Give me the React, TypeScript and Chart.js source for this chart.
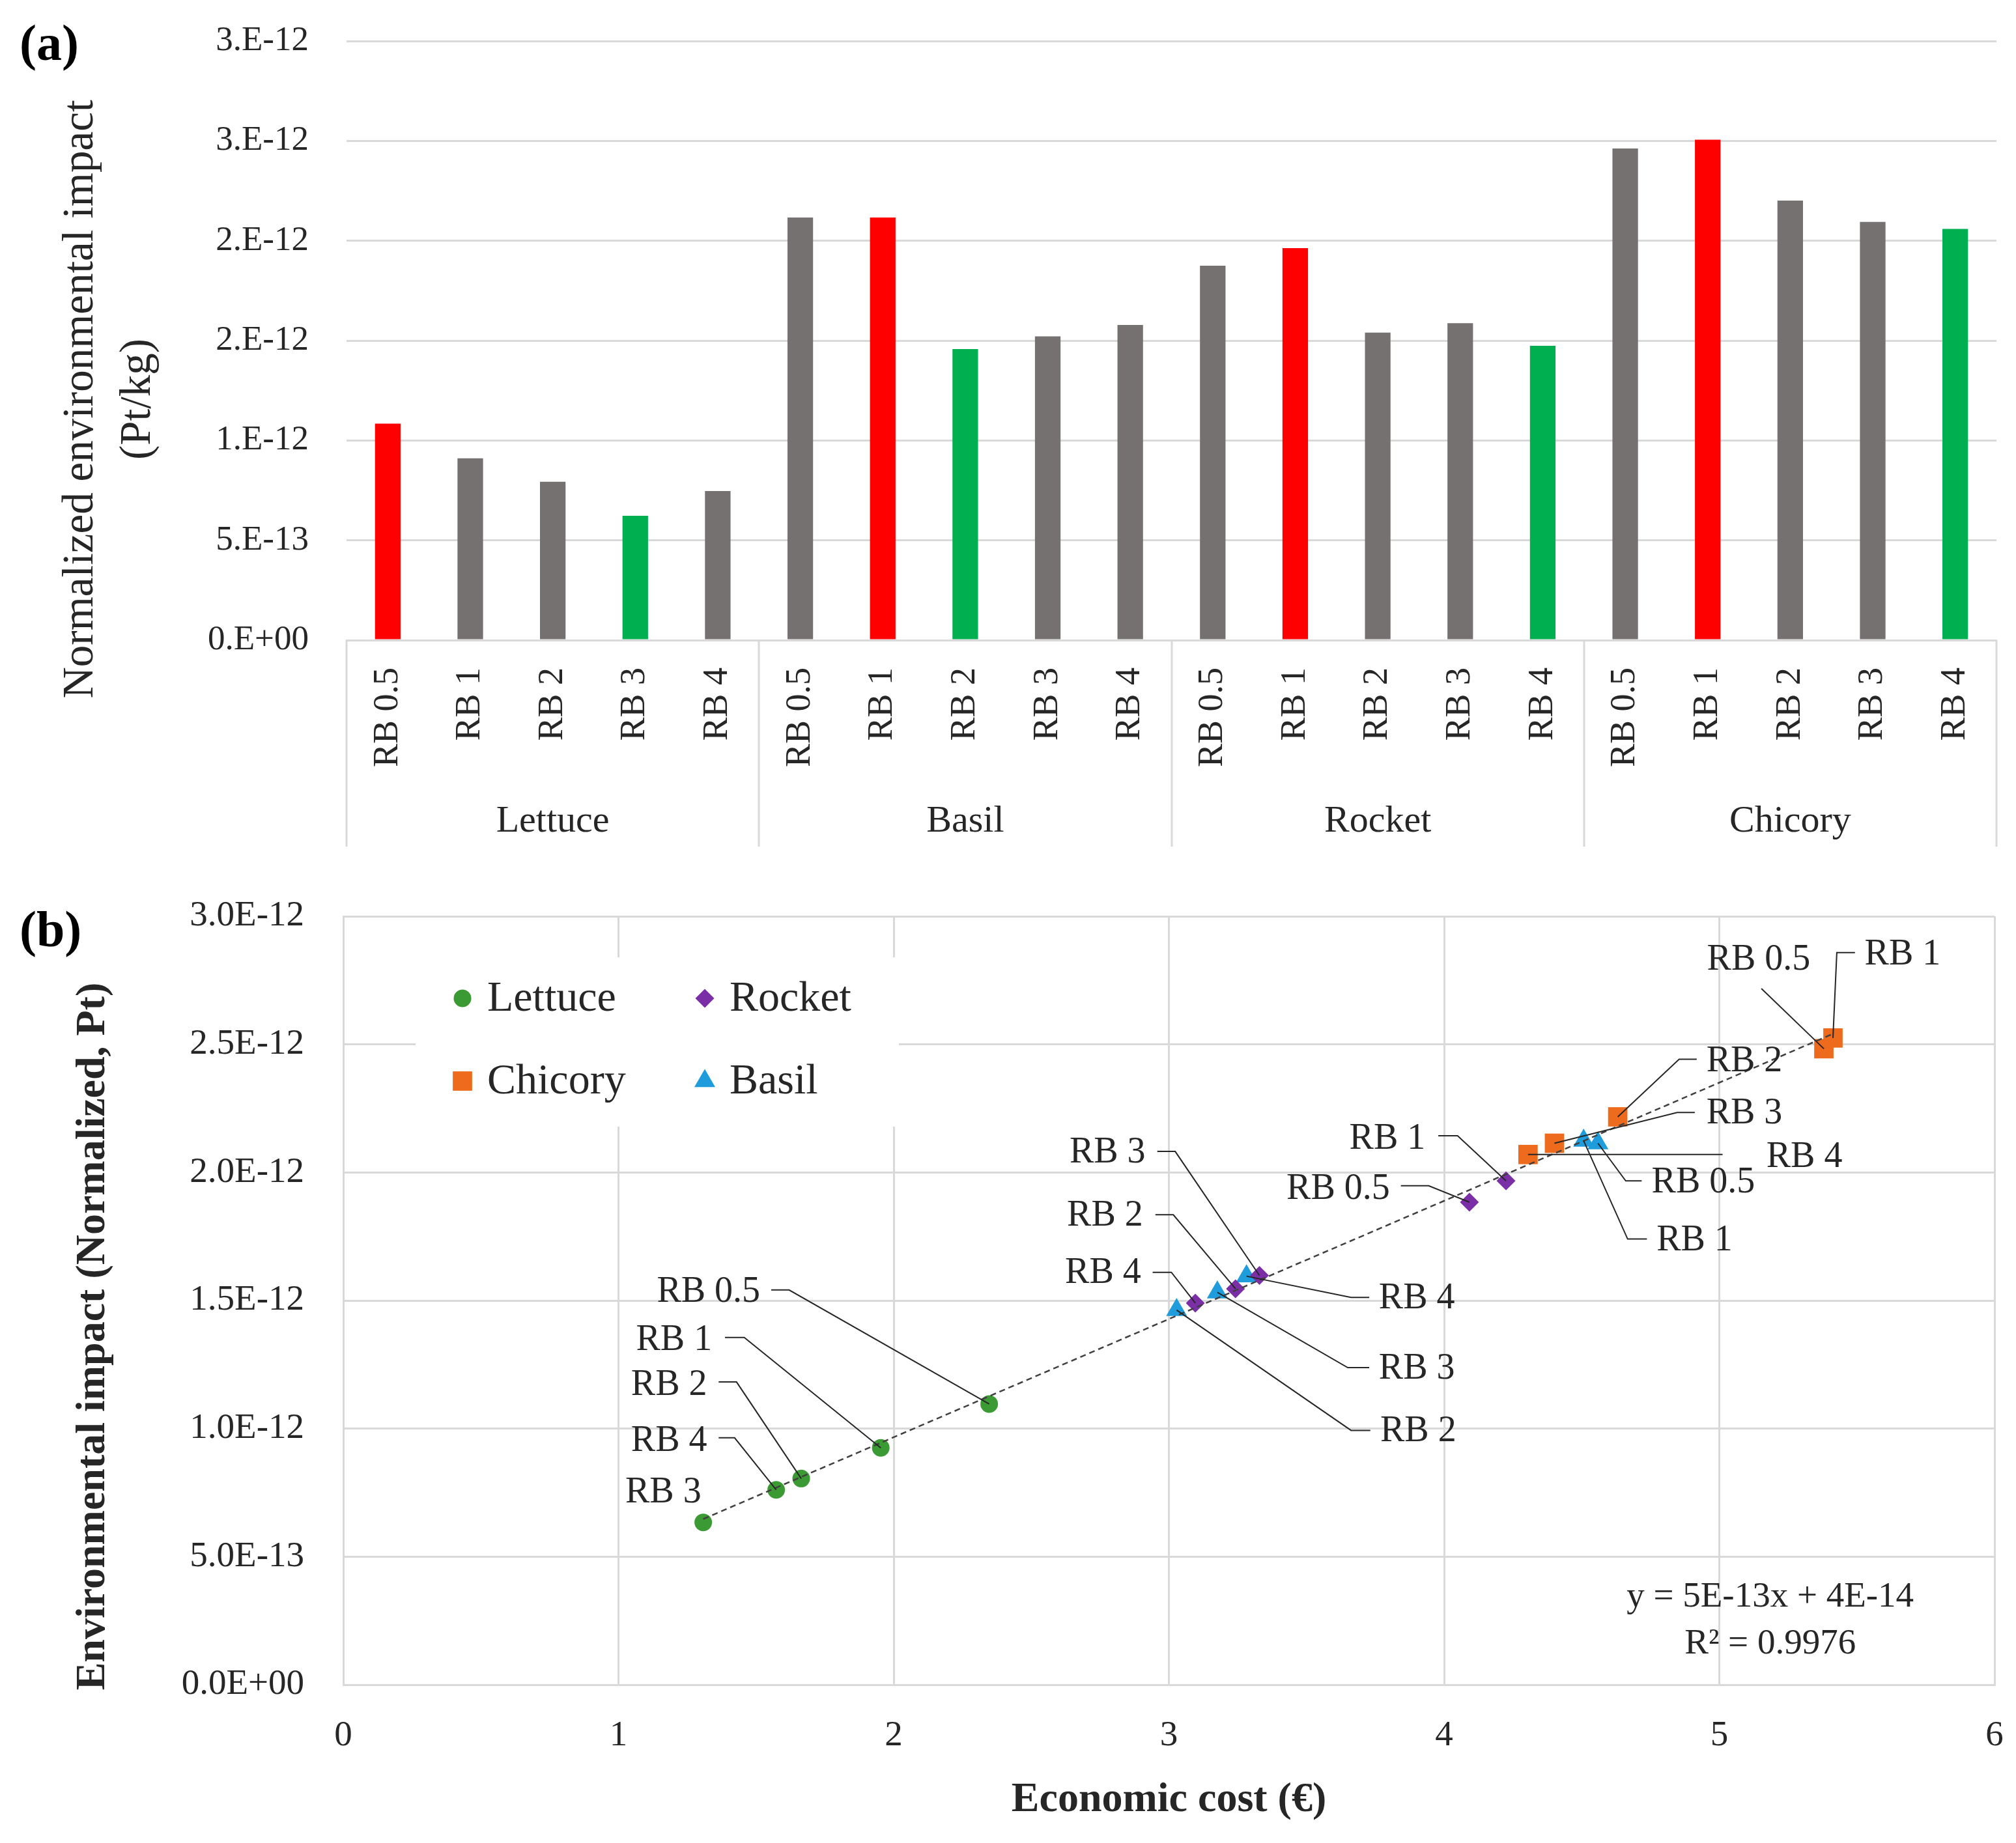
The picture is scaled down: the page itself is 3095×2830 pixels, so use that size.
import React, { useEffect, useRef } from 'react';
import { Chart, registerables } from 'chart.js';

Chart.register(...registerables);

const FONT = '"Liberation Serif", "Times New Roman", serif';
const TEXT = '#262626';
const GRID = '#D9D9D9';
const CLEAR = 'rgba(0,0,0,0)';

// ---------------- Panel (a) data ----------------
const rbLevels = ['RB 0.5', 'RB 1', 'RB 2', 'RB 3', 'RB 4'];
const crops = ['Lettuce', 'Basil', 'Rocket', 'Chicory'];
const lettuceImpact = [1.084e-12, 0.911e-12, 0.793e-12, 0.623e-12, 0.747e-12];
const basilImpact = [2.116e-12, 2.116e-12, 1.458e-12, 1.521e-12, 1.578e-12];
const rocketImpact = [1.875e-12, 1.963e-12, 1.54e-12, 1.587e-12, 1.474e-12];
const chicoryImpact = [2.462e-12, 2.506e-12, 2.201e-12, 2.094e-12, 2.059e-12];
const lettuceRole = ['high', 'mid', 'mid', 'low', 'mid'];
const basilRole = ['mid', 'high', 'low', 'mid', 'mid'];
const rocketRole = ['mid', 'high', 'mid', 'mid', 'low'];
const chicoryRole = ['mid', 'high', 'mid', 'mid', 'low'];
const impactTicks = [0, 5e-13, 1e-12, 1.5e-12, 2e-12, 2.5e-12, 3e-12];

// ---------------- Panel (b) data ----------------
const seriesNames = ['Lettuce', 'Rocket', 'Chicory', 'Basil'];
const lettuceCost = [2.347, 1.953, 1.664, 1.308, 1.573];
const lettuceNorm = [1.096e-12, 0.925e-12, 0.805e-12, 0.634e-12, 0.761e-12];
const rocketCost = [4.092, 4.225, 3.242, 3.329, 3.096];
const rocketNorm = [1.884e-12, 1.967e-12, 1.546e-12, 1.598e-12, 1.49e-12];
const chicoryCost = [5.38, 5.413, 4.631, 4.401, 4.305];
const chicoryNorm = [2.483e-12, 2.525e-12, 2.217e-12, 2.114e-12, 2.07e-12];
const basilCost = [4.559, 4.507, 3.028, 3.176, 3.282];
const basilNorm = [2.114e-12, 2.124e-12, 1.463e-12, 1.532e-12, 1.595e-12];
const costTicks = [0, 1, 2, 3, 4, 5, 6];
const normTicks = [0, 5e-13, 1e-12, 1.5e-12, 2e-12, 2.5e-12, 3e-12];
const trendEquation = 'y = 5E-13x + 4E-14';
const trendR2 = 'R² = 0.9976';

// label placements (data units, y in 1e-12)
const UNIT = 1e-12;
type Lab = { s: number; i: number; t: string; x: number; y: number; a: CanvasTextAlign; path: number[][] | null };
const pointLabels: Lab[] = [
  { s: 0, i: 0, t: 'RB 0.5', x: 1.515, y: 1.532, a: 'right', path: [[1.555, 1.541], [1.62, 1.541]] },
  { s: 0, i: 1, t: 'RB 1', x: 1.34, y: 1.343, a: 'right', path: [[1.387, 1.356], [1.457, 1.356]] },
  { s: 0, i: 2, t: 'RB 2', x: 1.322, y: 1.17, a: 'right', path: [[1.364, 1.182], [1.429, 1.182]] },
  { s: 0, i: 4, t: 'RB 4', x: 1.322, y: 0.949, a: 'right', path: [[1.364, 0.964], [1.422, 0.964]] },
  { s: 0, i: 3, t: 'RB 3', x: 1.301, y: 0.749, a: 'right', path: null },
  { s: 1, i: 3, t: 'RB 3', x: 2.915, y: 2.077, a: 'right', path: [[2.958, 2.082], [3.023, 2.082]] },
  { s: 1, i: 2, t: 'RB 2', x: 2.906, y: 1.83, a: 'right', path: [[2.951, 1.835], [3.016, 1.835]] },
  { s: 1, i: 4, t: 'RB 4', x: 2.899, y: 1.605, a: 'right', path: [[2.941, 1.61], [3.009, 1.61]] },
  { s: 1, i: 0, t: 'RB 0.5', x: 3.803, y: 1.935, a: 'right', path: [[3.843, 1.948], [3.944, 1.948]] },
  { s: 1, i: 1, t: 'RB 1', x: 3.932, y: 2.131, a: 'right', path: [[3.979, 2.143], [4.049, 2.143]] },
  { s: 2, i: 0, t: 'RB 0.5', x: 5.143, y: 2.829, a: 'center', path: [[5.153, 2.718]] },
  { s: 2, i: 1, t: 'RB 1', x: 5.528, y: 2.848, a: 'left', path: [[5.493, 2.858], [5.427, 2.858]] },
  { s: 2, i: 2, t: 'RB 2', x: 4.953, y: 2.432, a: 'left', path: [[4.918, 2.442], [4.854, 2.442]] },
  { s: 2, i: 3, t: 'RB 3', x: 4.953, y: 2.229, a: 'left', path: [[4.911, 2.234], [4.847, 2.234]] },
  { s: 2, i: 4, t: 'RB 4', x: 5.171, y: 2.058, a: 'left', path: [[5.012, 2.07]] },
  { s: 3, i: 0, t: 'RB 0.5', x: 4.754, y: 1.96, a: 'left', path: [[4.718, 1.967], [4.66, 1.967]] },
  { s: 3, i: 1, t: 'RB 1', x: 4.772, y: 1.732, a: 'left', path: [[4.737, 1.74], [4.667, 1.74]] },
  { s: 3, i: 4, t: 'RB 4', x: 3.763, y: 1.507, a: 'left', path: [[3.728, 1.512], [3.662, 1.512]] },
  { s: 3, i: 3, t: 'RB 3', x: 3.763, y: 1.233, a: 'left', path: [[3.728, 1.238], [3.65, 1.238]] },
  { s: 3, i: 2, t: 'RB 2', x: 3.768, y: 0.988, a: 'left', path: [[3.732, 0.993], [3.662, 0.993]] },
];

const roleColor: Record<string, string> = { high: '#FF0000', low: '#00B050', mid: '#767171' };
const seriesColor = ['#3C9A34', '#7A2FA6', '#EE6A1C', '#1F9CDB'];
const seriesStyle = ['circle', 'rectRot', 'rect', 'triangle'];
const seriesRadius = [13.5, 14.5, 21, 18.5];

function excelExp(v: number, d: number): string {
  let e = v === 0 ? 0 : Math.floor(Math.log10(Math.abs(v)) + 1e-9);
  let m = v === 0 ? 0 : v / Math.pow(10, e);
  const f = Math.pow(10, d);
  m = Math.round(m * f + 1e-6) / f;
  if (m >= 10) { m /= 10; e += 1; }
  const ms = d === 0 ? m.toFixed(0) + '.' : m.toFixed(d);
  return ms + 'E' + (e < 0 ? '-' : '+') + String(Math.abs(e)).padStart(2, '0');
}

function drawMarker(ctx: CanvasRenderingContext2D, style: string, x: number, y: number, r: number, color: string) {
  ctx.save();
  ctx.fillStyle = color;
  ctx.beginPath();
  if (style === 'circle') {
    ctx.arc(x, y, r, 0, Math.PI * 2);
  } else if (style === 'rectRot') {
    ctx.moveTo(x, y - r); ctx.lineTo(x + r, y); ctx.lineTo(x, y + r); ctx.lineTo(x - r, y); ctx.closePath();
  } else if (style === 'rect') {
    const h = r * Math.SQRT1_2;
    ctx.rect(x - h, y - h, 2 * h, 2 * h);
  } else {
    const w = r * Math.sqrt(3) / 2;
    ctx.moveTo(x, y - r); ctx.lineTo(x + w, y + r / 2); ctx.lineTo(x - w, y + r / 2); ctx.closePath();
  }
  ctx.fill();
  ctx.restore();
}

export default function App() {
  const topRef = useRef<HTMLCanvasElement>(null);
  const botRef = useRef<HTMLCanvasElement>(null);

  useEffect(() => {
    document.body.style.margin = '0';

    const barValues = [...lettuceImpact, ...basilImpact, ...rocketImpact, ...chicoryImpact];
    const barLabels = crops.flatMap(() => rbLevels);
    const barColors = [...lettuceRole, ...basilRole, ...rocketRole, ...chicoryRole].map((r) => roleColor[r]);

    const topDecor = {
      id: 'topDecor',
      afterDraw(chart: any) {
        const ctx: CanvasRenderingContext2D = chart.ctx;
        const xs = chart.scales.x;
        const x2 = chart.scales.x2;
        const area = chart.chartArea;
        ctx.save();
        ctx.strokeStyle = GRID;
        ctx.lineWidth = 3;
        for (let g = 0; g <= crops.length; g++) {
          const px = Math.round(xs.getPixelForValue(g * rbLevels.length - 0.5));
          ctx.beginPath();
          ctx.moveTo(px, area.bottom);
          ctx.lineTo(px, x2.bottom - 20);
          ctx.stroke();
        }
        ctx.restore();

        ctx.save();
        ctx.fillStyle = TEXT;
        ctx.font = `67px ${FONT}`;
        ctx.textAlign = 'center';
        ctx.textBaseline = 'middle';
        ctx.translate(124, 613);
        ctx.rotate(-Math.PI / 2);
        ctx.fillText('Normalized environmental impact', 0, 0);
        ctx.fillText('(Pt/kg)', 0, 88);
        ctx.restore();

        ctx.save();
        ctx.fillStyle = '#000';
        ctx.font = `bold 78px ${FONT}`;
        ctx.textAlign = 'left';
        ctx.textBaseline = 'middle';
        ctx.fillText('(a)', 30, 72);
        ctx.restore();
      },
    };

    const top = new Chart(topRef.current as HTMLCanvasElement, {
      type: 'bar',
      data: {
        labels: barLabels,
        datasets: [
          {
            data: barValues,
            backgroundColor: barColors,
            borderWidth: 0,
            barPercentage: 0.31,
            categoryPercentage: 1,
            xAxisID: 'x',
            yAxisID: 'y',
          },
        ],
      },
      options: {
        responsive: false,
        animation: false,
        devicePixelRatio: 1,
        events: [],
        layout: { padding: { top: 63, right: 30, left: 0, bottom: 0 } },
        plugins: { legend: { display: false }, tooltip: { enabled: false } },
        scales: {
          x: {
            type: 'category',
            position: 'bottom',
            weight: 0,
            grid: { display: false, drawTicks: true, tickLength: 42, tickColor: CLEAR },
            border: { display: true, color: GRID, width: 3 },
            ticks: {
              autoSkip: false,
              minRotation: 90,
              maxRotation: 90,
              padding: 0,
              color: TEXT,
              font: { family: FONT, size: 54 },
            },
            afterFit: (s: any) => { s.height = 207; },
          },
          x2: {
            type: 'category',
            labels: crops,
            position: 'bottom',
            weight: 1,
            offset: true,
            grid: { display: false, drawTicks: true, tickLength: 37, tickColor: CLEAR },
            border: { display: false },
            ticks: { padding: 0, color: TEXT, font: { family: FONT, size: 58 } },
            afterFit: (s: any) => { s.height = 130; },
          },
          y: {
            min: 0,
            max: 3e-12,
            afterBuildTicks: (s: any) => { s.ticks = impactTicks.map((v) => ({ value: v })); },
            grid: { color: GRID, lineWidth: 3, drawTicks: true, tickLength: 58, tickColor: CLEAR },
            border: { display: false },
            ticks: {
              padding: 0,
              color: TEXT,
              font: { family: FONT, size: 53 },
              callback: (v: any) => excelExp(Number(v), 0),
            },
            afterFit: (s: any) => { s.width = 532; },
          },
        },
      } as any,
      plugins: [topDecor],
    });

    // ---------- Panel (b) ----------
    const costs = [lettuceCost, rocketCost, chicoryCost, basilCost];
    const norms = [lettuceNorm, rocketNorm, chicoryNorm, basilNorm];
    const allX = costs.flat();
    const allY = norms.flat();
    const n = allX.length;
    const mx = allX.reduce((a, b) => a + b, 0) / n;
    const my = allY.reduce((a, b) => a + b, 0) / n;
    let sxy = 0;
    let sxx = 0;
    for (let k = 0; k < n; k++) {
      sxy += (allX[k] - mx) * (allY[k] - my);
      sxx += (allX[k] - mx) * (allX[k] - mx);
    }
    const slope = sxy / sxx;
    const intercept = my - slope * mx;
    const xMin = Math.min(...allX);
    const xMax = Math.max(...allX);
    const trendData = [
      { x: xMin, y: intercept + slope * xMin },
      { x: xMax, y: intercept + slope * xMax },
    ];

    const scatterSets: any[] = seriesNames.map((name, s) => ({
      type: 'scatter',
      label: name,
      data: costs[s].map((c, i) => ({ x: c, y: norms[s][i] })),
      pointStyle: seriesStyle[s],
      pointRadius: seriesRadius[s],
      pointBackgroundColor: seriesColor[s],
      pointBorderColor: seriesColor[s],
      pointBorderWidth: 0,
      order: 0,
    }));

    const botDecor = {
      id: 'botDecor',
      beforeDatasetsDraw(chart: any) {
        const ctx: CanvasRenderingContext2D = chart.ctx;
        const area = chart.chartArea;
        const bx = area.left + 111;
        const by = area.top + 63;
        ctx.save();
        ctx.fillStyle = '#FFFFFF';
        ctx.fillRect(bx, by, 742, 260);
        const colX = [area.left + 183, area.left + 555];
        const rowY = [area.top + 126, area.top + 253];
        ctx.font = `66px ${FONT}`;
        ctx.textAlign = 'left';
        ctx.textBaseline = 'middle';
        seriesNames.forEach((name, s) => {
          const cx = colX[s % 2];
          const cy = rowY[Math.floor(s / 2)];
          drawMarker(ctx, seriesStyle[s], cx, cy, seriesRadius[s], seriesColor[s]);
          ctx.fillStyle = TEXT;
          ctx.fillText(name, cx + 38, cy + 2);
        });
        ctx.restore();
      },
      afterDatasetsDraw(chart: any) {
        const ctx: CanvasRenderingContext2D = chart.ctx;
        const xs = chart.scales.x;
        const ys = chart.scales.y;
        ctx.save();
        ctx.strokeStyle = '#262626';
        ctx.lineWidth = 2;
        ctx.fillStyle = TEXT;
        ctx.font = `56px ${FONT}`;
        ctx.textBaseline = 'middle';
        pointLabels.forEach((lab) => {
          const el = chart.getDatasetMeta(lab.s).data[lab.i];
          if (lab.path) {
            ctx.beginPath();
            lab.path.forEach((p, k) => {
              const px = xs.getPixelForValue(p[0]);
              const py = ys.getPixelForValue(p[1] * UNIT);
              if (k === 0) ctx.moveTo(px, py);
              else ctx.lineTo(px, py);
            });
            ctx.lineTo(el.x, el.y);
            ctx.stroke();
          }
          ctx.textAlign = lab.a;
          ctx.fillText(lab.t, xs.getPixelForValue(lab.x), ys.getPixelForValue(lab.y * UNIT));
        });
        ctx.font = `55px ${FONT}`;
        ctx.textAlign = 'center';
        ctx.fillText(trendEquation, xs.getPixelForValue(5.185), ys.getPixelForValue(0.343 * UNIT));
        ctx.fillText(trendR2, xs.getPixelForValue(5.185), ys.getPixelForValue(0.16 * UNIT));
        ctx.restore();
      },
      afterDraw(chart: any) {
        const ctx: CanvasRenderingContext2D = chart.ctx;
        ctx.save();
        ctx.fillStyle = TEXT;
        ctx.font = `bold 64px ${FONT}`;
        ctx.textAlign = 'center';
        ctx.textBaseline = 'middle';
        ctx.translate(143, 732);
        ctx.rotate(-Math.PI / 2);
        ctx.fillText('Environmental impact (Normalized, Pt)', 0, 0);
        ctx.restore();

        ctx.save();
        ctx.fillStyle = '#000';
        ctx.font = `bold 78px ${FONT}`;
        ctx.textAlign = 'left';
        ctx.textBaseline = 'middle';
        ctx.fillText('(b)', 30, 113);
        ctx.restore();
      },
    };

    const bottom = new Chart(botRef.current as HTMLCanvasElement, {
      type: 'scatter',
      data: {
        datasets: [
          ...scatterSets,
          {
            type: 'line',
            label: 'Trend',
            data: trendData,
            borderColor: '#404040',
            borderWidth: 2.5,
            borderDash: [9, 6],
            pointRadius: 0,
            fill: false,
            showLine: true,
            order: -1,
          },
        ],
      },
      options: {
        responsive: false,
        animation: false,
        devicePixelRatio: 1,
        events: [],
        layout: { padding: { top: 87, right: 33, left: 0, bottom: 0 } },
        plugins: { legend: { display: false }, tooltip: { enabled: false } },
        scales: {
          x: {
            type: 'linear',
            min: 0,
            max: 6,
            afterBuildTicks: (s: any) => { s.ticks = costTicks.map((v) => ({ value: v })); },
            grid: { color: GRID, lineWidth: 3, drawTicks: true, tickLength: 46, tickColor: CLEAR },
            border: { display: true, color: GRID, width: 3 },
            ticks: { padding: 0, color: TEXT, font: { family: FONT, size: 55 } },
            title: {
              display: true,
              text: 'Economic cost (€)',
              color: TEXT,
              font: { family: FONT, size: 64, weight: 'bold' },
              padding: { top: 0, bottom: 27 },
            },
            afterFit: (s: any) => { s.height = 243; },
          },
          y: {
            type: 'linear',
            min: 0,
            max: 3e-12,
            afterBuildTicks: (s: any) => { s.ticks = normTicks.map((v) => ({ value: v })); },
            grid: { color: GRID, lineWidth: 3, drawTicks: true, tickLength: 60, tickColor: CLEAR },
            border: { display: true, color: GRID, width: 3 },
            ticks: {
              padding: 0,
              color: TEXT,
              font: { family: FONT, size: 55 },
              callback: (v: any) => excelExp(Number(v), 1),
            },
            afterFit: (s: any) => { s.width = 527; },
          },
        },
      } as any,
      plugins: [botDecor],
    });

    return () => {
      top.destroy();
      bottom.destroy();
    };
  }, []);

  return (
    <div style={{ position: 'relative', width: 3095, height: 2830, background: '#ffffff' }}>
      <canvas
        ref={topRef}
        width={3095}
        height={1320}
        style={{ position: 'absolute', left: 0, top: 0, width: 3095, height: 1320 }}
      />
      <canvas
        ref={botRef}
        width={3095}
        height={1510}
        style={{ position: 'absolute', left: 0, top: 1320, width: 3095, height: 1510 }}
      />
    </div>
  );
}
